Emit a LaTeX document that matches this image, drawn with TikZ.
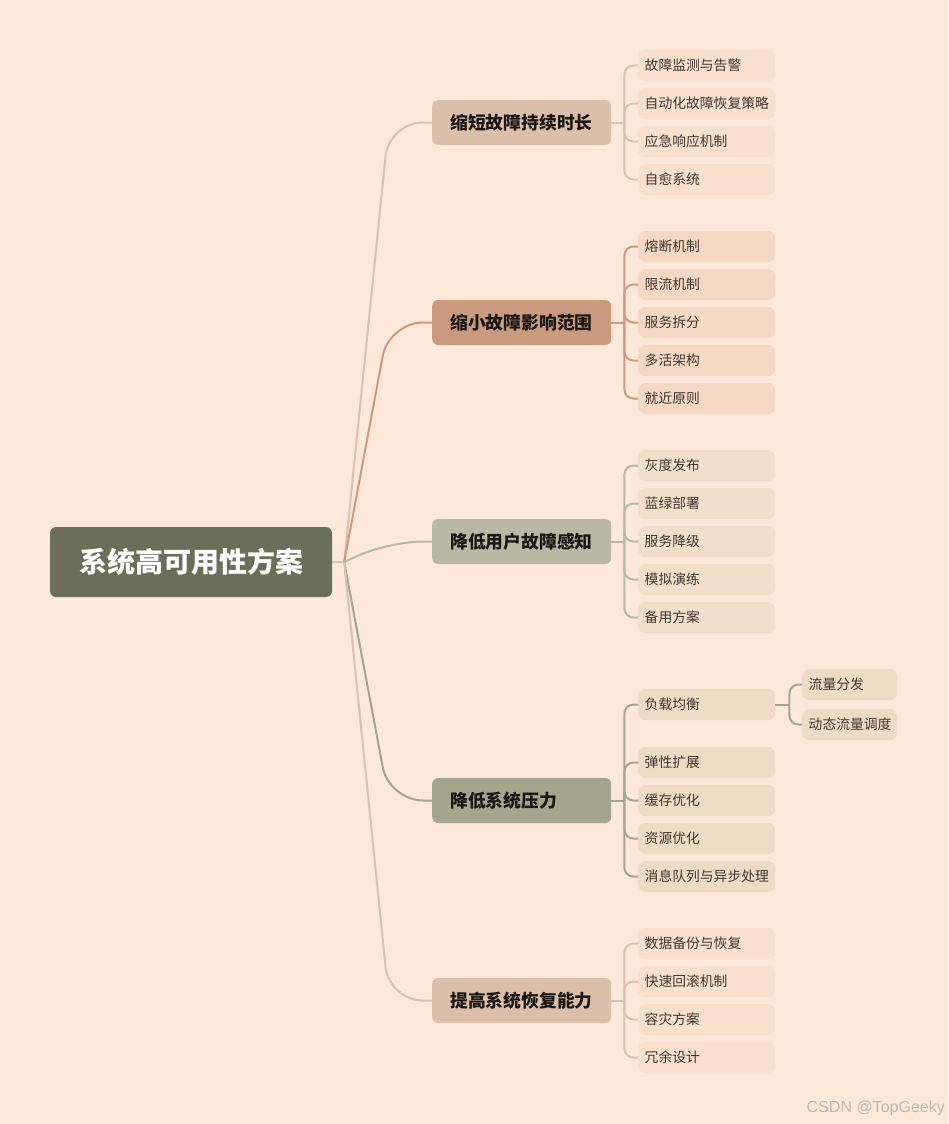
\documentclass[tikz,border=0pt]{standalone}
\usepackage{fontspec}
\setmainfont{Noto Sans CJK SC}
\newfontfamily\wmfont{Liberation Sans}
\usetikzlibrary{positioning, calc}

\definecolor{bgpeach}{HTML}{FDE8D9}
\definecolor{rootgray}{HTML}{6B6E58}
\definecolor{branchtext}{HTML}{1A1714}
\definecolor{leaftext}{HTML}{42372F}
\definecolor{wmgray}{HTML}{BFB9B5}
% branch colours
\definecolor{brA}{HTML}{DCBFAA}
\definecolor{brB}{HTML}{CA9A7F}
\definecolor{brC}{HTML}{B9B8A4}
\definecolor{brD}{HTML}{A5A58D}
% line colours
\definecolor{lnA}{HTML}{DAC0AD}
\definecolor{lnB}{HTML}{CB9A80}
\definecolor{lnC}{HTML}{B5B9A6}
\definecolor{lnD}{HTML}{A3A68E}
% leaf colours
\definecolor{lfA}{HTML}{F8DFCE}
\definecolor{lfB}{HTML}{F5D8C4}
\definecolor{lfC}{HTML}{F1DFCB}
\definecolor{lfD}{HTML}{EEDBC6}

\tikzset{
    rootbox/.style={fill=rootgray, rounded corners=6pt, minimum width=282pt, minimum height=70pt,
        font=\fontsize{28}{30}\selectfont\bfseries, text=white},
    branchbox/.style={rounded corners=6pt, minimum height=45pt, text width=143pt, inner xsep=18pt,
        align=left, anchor=west, font=\fontsize{17.8}{20}\selectfont\bfseries, text=branchtext},
    leafbox/.style={rounded corners=7pt, minimum height=31pt, text width=124pt, inner xsep=6.5pt,
        align=left, anchor=west, font=\fontsize{13.8}{16}\selectfont, text=leaftext},
    subleafbox/.style={leafbox, text width=82pt},
    mainlink/.style={line width=2pt, rounded corners=34pt},
    leaflink/.style={line width=2pt, rounded corners=9pt},
}

\begin{document}
\begin{tikzpicture}[x=1pt, y=-1pt]
    % Canvas
    \fill[bgpeach] (0,0) rectangle (948,1124);
    \useasboundingbox (0,0) rectangle (948,1124);

    % Root
    \node[rootbox] (root) at (191,562) {系统高可用性方案};
    \coordinate (rootj) at ([xshift=12pt]root.east);
    \draw[line width=2pt, lnA] (root.east) -- (rootj);

    % Branches
    \node[branchbox, fill=brA] (b1) at (432,122.5) {缩短故障持续时长};
    \node[branchbox, fill=brB] (b2) at (432,322.5) {缩小故障影响范围};
    \node[branchbox, fill=brC] (b3) at (432,541.5) {降低用户故障感知};
    \node[branchbox, fill=brD] (b4) at (432,800.5) {降低系统压力};
    \node[branchbox, fill=brA] (b5) at (432,1000.5) {提高系统恢复能力};

    % Root to branches
    \foreach \b/\c in {b1/lnA, b2/lnB, b3/lnC, b4/lnD, b5/lnA} {
        \draw[mainlink, \c] (rootj) -- ([xshift=-43pt]\b.west) -- (\b.west);
    }

    % Branch junctions
    \foreach \b/\c in {b1/lnA, b2/lnB, b3/lnC, b4/lnD, b5/lnA} {
        \coordinate (\b j) at ([xshift=13pt]\b.east);
        \draw[line width=2pt, \c] (\b.east) -- (\b j);
    }

    % Leaves of b1
    \foreach \y/\txt [count=\i] in {65.5/故障监测与告警, 103.5/自动化故障恢复策略, 141.5/应急响应机制, 179.5/自愈系统} {
        \node[leafbox, fill=lfA] (l1-\i) at (638,\y) {\txt};
        \draw[leaflink, lnA] (b1j) |- (l1-\i.west);
    }

    % Leaves of b2
    \foreach \y/\txt [count=\i] in {246.5/熔断机制, 284.5/限流机制, 322.5/服务拆分, 360.5/多活架构, 398.5/就近原则} {
        \node[leafbox, fill=lfB] (l2-\i) at (638,\y) {\txt};
        \draw[leaflink, lnB] (b2j) |- (l2-\i.west);
    }

    % Leaves of b3
    \foreach \y/\txt [count=\i] in {465.5/灰度发布, 503.5/蓝绿部署, 541.5/服务降级, 579.5/模拟演练, 617.5/备用方案} {
        \node[leafbox, fill=lfC] (l3-\i) at (638,\y) {\txt};
        \draw[leaflink, lnC] (b3j) |- (l3-\i.west);
    }

    % Leaves of b4
    \foreach \y/\txt [count=\i] in {704.5/负载均衡, 762.5/弹性扩展, 800.5/缓存优化, 838.5/资源优化, 876.5/消息队列与异步处理} {
        \node[leafbox, fill=lfD] (l4-\i) at (638,\y) {\txt};
        \draw[leaflink, lnD] (b4j) |- (l4-\i.west);
    }

    % Sub-leaves of load balancing
    \coordinate (l4j) at ([xshift=14pt]l4-1.east);
    \draw[line width=2pt, lnD] (l4-1.east) -- (l4j);
    \foreach \y/\txt [count=\i] in {684.5/流量分发, 724.5/动态流量调度} {
        \node[subleafbox, fill=lfD] (s4-\i) at (802,\y) {\txt};
        \draw[leaflink, lnD] (l4j) |- (s4-\i.west);
    }

    % Leaves of b5
    \foreach \y/\txt [count=\i] in {943.5/数据备份与恢复, 981.5/快速回滚机制, 1019.5/容灾方案, 1057.5/冗余设计} {
        \node[leafbox, fill=lfA] (l5-\i) at (638,\y) {\txt};
        \draw[leaflink, lnA] (b5j) |- (l5-\i.west);
    }

    % Watermark
    \node[anchor=east, inner sep=0pt, font=\wmfont\fontsize{16}{18}\selectfont, text=wmgray] (wm) at (945,1108) {CSDN @TopGeeky};
\end{tikzpicture}
\end{document}
